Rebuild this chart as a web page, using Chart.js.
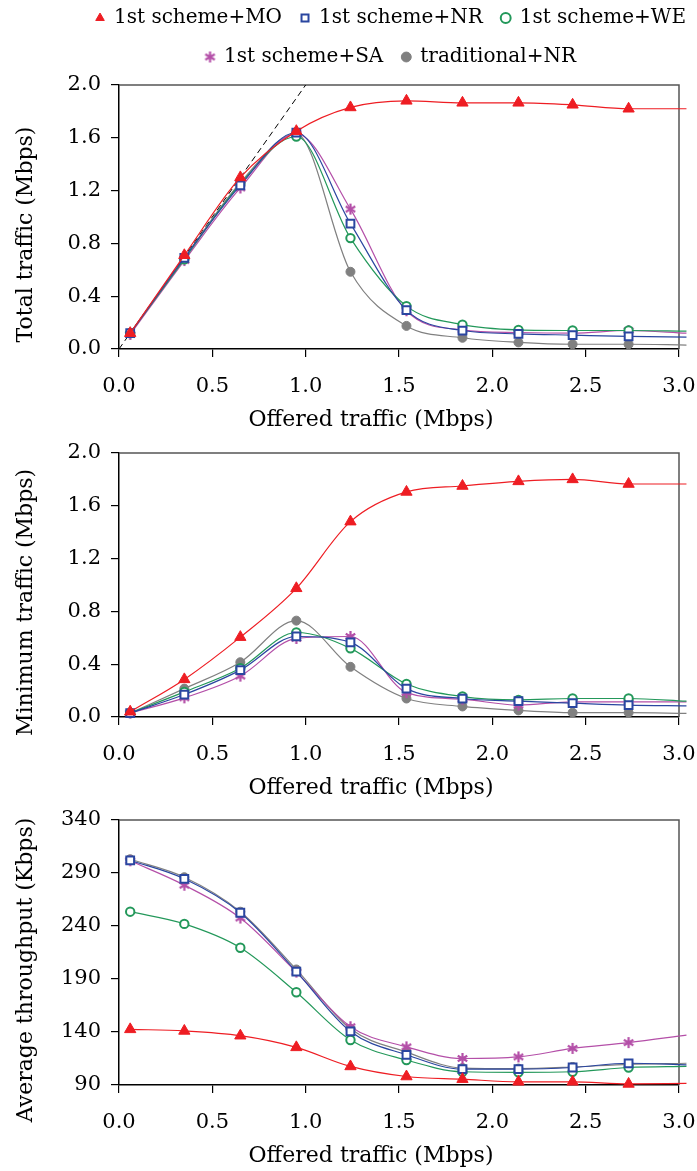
<!DOCTYPE html>
<html>
<head>
<title>Total traffic, minimum traffic and average throughput vs offered traffic</title>
<script src="https://cdn.jsdelivr.net/npm/chart.js"></script>
<style>
  body { margin: 0; background: #fff; width: 697px; height: 1171px; overflow: hidden; position: relative; }
  canvas { position: absolute; left: 0; }
</style>
</head>
<body>
<canvas id="total" width="697" height="440" style="top:0px"></canvas>
<canvas id="minimum" width="697" height="368" style="top:440px"></canvas>
<canvas id="average" width="697" height="368" style="top:808px"></canvas>

<script>
    // offered traffic (Mbps) of the measured points, last one is where the curves leave the frame
    var offered = [0.06, 0.35, 0.65, 0.95, 1.24, 1.54, 1.84, 2.14, 2.43, 2.73, 3.04];
    var names = ['1st scheme+MO', '1st scheme+NR', '1st scheme+WE', '1st scheme+SA', 'traditional+NR'];

    var xTicks = [0, 0.5, 1, 1.5, 2, 2.5, 3];
    var trafficTicks = [0, 0.4, 0.8, 1.2, 1.6, 2.0];
    var throughputTicks = [90, 140, 190, 240, 290, 340];

    // Total traffic (Mbps)
    var totalMO   = [0.12, 0.71, 1.30, 1.65, 1.83, 1.88, 1.865, 1.865, 1.85, 1.82, 1.82];
    var totalNR   = [0.12, 0.69, 1.24, 1.64, 0.95, 0.295, 0.14, 0.115, 0.105, 0.095, 0.09];
    var totalWE   = [0.12, 0.68, 1.25, 1.61, 0.84, 0.325, 0.185, 0.145, 0.14, 0.14, 0.135];
    var totalSA   = [0.11, 0.67, 1.22, 1.63, 1.06, 0.29, 0.145, 0.125, 0.12, 0.14, 0.12];
    var totalTrad = [0.12, 0.69, 1.26, 1.63, 0.585, 0.175, 0.085, 0.05, 0.036, 0.036, 0.03];
    // dashed reference line (total = 2 x offered)
    var refX = [0, 1.0];
    var refY = [0, 2.0];

    // Minimum traffic (Mbps)
    var minMO   = [0.04, 0.285, 0.605, 0.975, 1.48, 1.705, 1.75, 1.785, 1.80, 1.765, 1.765];
    var minNR   = [0.03, 0.17, 0.355, 0.61, 0.565, 0.215, 0.14, 0.12, 0.105, 0.09, 0.085];
    var minWE   = [0.03, 0.19, 0.37, 0.64, 0.52, 0.25, 0.155, 0.13, 0.14, 0.14, 0.12];
    var minSA   = [0.03, 0.145, 0.31, 0.595, 0.61, 0.185, 0.135, 0.09, 0.115, 0.115, 0.115];
    var minTrad = [0.03, 0.215, 0.415, 0.73, 0.38, 0.14, 0.08, 0.05, 0.033, 0.033, 0.028];

    // Average throughput (Kbps)
    var avgMO   = [142.5, 141, 136.5, 125.5, 107.5, 98, 95.5, 93, 93, 91, 91.5];
    var avgNR   = [302, 284.5, 252.5, 197, 140.5, 118.5, 105, 105, 106.5, 110.5, 109];
    var avgWE   = [253.5, 242, 219.5, 177.5, 132.5, 113.5, 102.5, 102, 102.5, 106.5, 107.5];
    var avgSA   = [301.5, 278.5, 247.5, 196.5, 145, 126, 115, 116.5, 124.5, 130, 137];
    var avgTrad = [303, 286, 253.5, 199, 143, 121, 106, 105.5, 107, 109.5, 110.5];

    Chart.defaults.font.family = "'DejaVu Serif', serif";
    Chart.defaults.font.size = 21;
    Chart.defaults.color = '#000';
    Chart.defaults.animation = false;

    // six-armed asterisk marker for the SA curve
    function asterisk(color, size) {
        var c = document.createElement('canvas');
        c.width = c.height = size;
        var g = c.getContext('2d');
        var m = size / 2, arm = size / 2 - 1;
        g.strokeStyle = color;
        g.lineWidth = 2.2;
        g.beginPath();
        [90, 30, 150].forEach(function (a) {
            var r = a * Math.PI / 180;
            g.moveTo(m - arm * Math.cos(r), m - arm * Math.sin(r));
            g.lineTo(m + arm * Math.cos(r), m + arm * Math.sin(r));
        });
        g.stroke();
        return c;
    }

    var styles = [
        { color: '#ee1d23', point: 'triangle', r: 6.5, fill: '#ee1d23', bw: 1 },
        { color: '#2a46a0', point: 'rect', r: 5.5, fill: '#fff', bw: 2 },
        { color: '#23985a', point: 'circle', r: 4.2, fill: '#fff', bw: 2 },
        { color: '#b44fa8', point: asterisk('#b44fa8', 13), r: 5, fill: '#b44fa8', bw: 2 },
        { color: '#808080', point: 'circle', r: 4.5, fill: '#808080', bw: 1 }
    ];

    // pads the end of a title so the visible words sit off-centre like the original
    function pad(text, n) {
        return text + '\u00a0'.repeat(n);
    }

    // top and right edges of the plot frame
    var frame = {
        id: 'frame',
        beforeDatasetsDraw: function (chart) {
            var a = chart.chartArea, ctx = chart.ctx;
            ctx.save();
            ctx.strokeStyle = '#555';
            ctx.lineWidth = 1.5;
            ctx.beginPath();
            ctx.moveTo(a.left, a.top);
            ctx.lineTo(a.right, a.top);
            ctx.lineTo(a.right, a.bottom);
            ctx.stroke();
            ctx.restore();
        }
    };

    // the legend sits a bit right of the page centre and close to the top edge
    var legendShift = {
        id: 'legendShift',
        beforeDraw: function (chart) {
            if (chart.legend && chart.legend.options.display) {
                chart.legend.left = 70;
                chart.legend.right = 712;
                chart.legend.top = -11;
            }
        }
    };

    function panel(id, series, yTicks, yTitle, topPad, decimals, withLegend, extra) {
        var datasets = series.map(function (values, i) {
            var s = styles[i];
            return {
                label: names[i],
                data: offered.map(function (x, j) { return { x: x, y: values[j] }; }),
                borderColor: s.color,
                borderWidth: 1.2,
                pointStyle: s.point,
                pointRadius: offered.map(function (x, j) { return j < offered.length - 1 ? s.r : 0; }),
                pointBackgroundColor: s.fill,
                pointBorderColor: s.color,
                pointBorderWidth: s.bw,
                cubicInterpolationMode: 'monotone',
                clip: false
            };
        });
        if (extra) datasets.push(extra);

        return new Chart(document.getElementById(id), {
            type: 'line',
            data: { datasets: datasets },
            plugins: [frame, legendShift],
            options: {
                responsive: false,
                devicePixelRatio: 1,
                events: [],
                layout: { padding: 0 },
                plugins: {
                    tooltip: { enabled: false },
                    legend: {
                        display: withLegend,
                        position: 'top',
                        maxHeight: 85,
                        labels: {
                            usePointStyle: true,
                            boxWidth: 8,
                            boxHeight: 7,
                            padding: 19,
                            font: { size: 20 },
                            color: '#000',
                            filter: function (item, data) {
                                return data.datasets[item.datasetIndex].inLegend !== false;
                            }
                        }
                    }
                },
                scales: {
                    x: {
                        type: 'linear',
                        min: 0,
                        max: 3,
                        afterBuildTicks: function (s) { s.ticks = xTicks.map(function (v) { return { value: v }; }); },
                        ticks: { callback: function (v) { return v.toFixed(1); }, padding: 17, maxRotation: 0, autoSkip: false },
                        grid: { drawOnChartArea: false, color: '#000', lineWidth: 1.2, tickLength: 8 },
                        border: { color: '#000', width: 1.5 },
                        title: { display: true, text: pad('Offered traffic (Mbps)', 8), font: { size: 22 }, padding: { top: 0, bottom: 7 } },
                        afterFit: function (s) { s.height = 91; s.paddingLeft = 0; s.paddingRight = 18; }
                    },
                    y: {
                        type: 'linear',
                        min: yTicks[0],
                        max: yTicks[yTicks.length - 1],
                        afterBuildTicks: function (s) { s.ticks = yTicks.map(function (v) { return { value: v }; }); },
                        ticks: { callback: function (v) { return v.toFixed(decimals); }, padding: 10, autoSkip: false },
                        grid: { drawOnChartArea: false, color: '#000', lineWidth: 1.2, tickLength: 8 },
                        border: { color: '#000', width: 1.5 },
                        title: { display: true, text: pad(yTitle, 5), font: { size: 22 }, padding: { top: 13, bottom: 0 } },
                        afterFit: function (s) { s.width = 119; s.paddingTop = topPad; s.paddingBottom = 0; }
                    }
                }
            }
        });
    }

    panel('total', [totalMO, totalNR, totalWE, totalSA, totalTrad], trafficTicks,
        'Total traffic (Mbps)', 0, 1, true, {
            label: 'reference',
            inLegend: false,
            data: refX.map(function (x, j) { return { x: x, y: refY[j] }; }),
            borderColor: '#000',
            borderWidth: 1,
            borderDash: [6, 4],
            pointRadius: 0,
            clip: false
        });

    panel('minimum', [minMO, minNR, minWE, minSA, minTrad], trafficTicks,
        'Minimum traffic (Mbps)', 13, 1, false);

    panel('average', [avgMO, avgNR, avgWE, avgSA, avgTrad], throughputTicks,
        'Average throughput (Kbps)', 12, 0, false);
</script>
</body>
</html>
